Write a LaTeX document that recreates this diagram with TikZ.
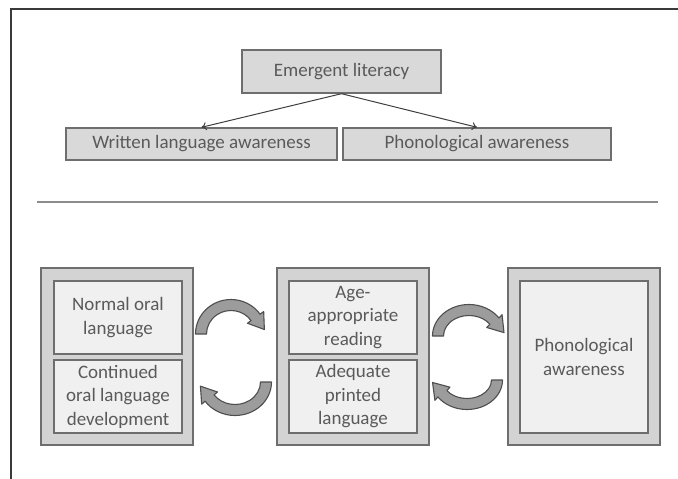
\documentclass[tikz,border=0pt]{standalone}
\usepackage{fontspec}
\setmainfont{Carlito}
\usetikzlibrary{arrows.meta}
\definecolor{framec}{HTML}{3A3A3A}
\definecolor{bordergray}{HTML}{6E6E6E}
\definecolor{boxfill}{HTML}{D9D9D9}
\definecolor{outerfill}{HTML}{D3D3D3}
\definecolor{innerfill}{HTML}{F0F0F0}
\definecolor{txt}{HTML}{5A5A5A}
\definecolor{sepc}{HTML}{8C8C8C}
\definecolor{arrfill}{HTML}{9C9C9C}
\definecolor{arrline}{HTML}{4E4E4E}
\definecolor{linkc}{HTML}{404040}

% #1 cx, #2 cy, #3 rx, #4 ry, #5 start angle, #6 end angle, #7 half width
\newcommand{\bentarrow}[7]{%
  \pgfmathsetmacro\bEx{#1+#3*cos(#6)}%
  \pgfmathsetmacro\bEy{#2+#4*sin(#6)}%
  \pgfmathsetmacro\bTx{-#3*sin(#6)}%
  \pgfmathsetmacro\bTy{#4*cos(#6)}%
  \pgfmathsetmacro\bTn{sqrt(\bTx*\bTx+\bTy*\bTy)}%
  \pgfmathsetmacro\bUx{\bTx/\bTn}%
  \pgfmathsetmacro\bUy{\bTy/\bTn}%
  \pgfmathsetmacro\bRox{#3+#7}%
  \pgfmathsetmacro\bRoy{#4+#7}%
  \pgfmathsetmacro\bRix{#3-#7}%
  \pgfmathsetmacro\bRiy{#4-#7}%
  \pgfmathsetmacro\bSx{#1+\bRox*cos(#5)}%
  \pgfmathsetmacro\bSy{#2+\bRoy*sin(#5)}%
  \pgfmathsetmacro\bIx{#1+\bRix*cos(#6)}%
  \pgfmathsetmacro\bIy{#2+\bRiy*sin(#6)}%
  \pgfmathsetmacro\bAx{\bEx+10*\bUy}%
  \pgfmathsetmacro\bAy{\bEy-10*\bUx}%
  \pgfmathsetmacro\bBx{\bEx+15*\bUx}%
  \pgfmathsetmacro\bBy{\bEy+15*\bUy}%
  \pgfmathsetmacro\bCx{\bEx-10*\bUy}%
  \pgfmathsetmacro\bCy{\bEy+10*\bUx}%
  \filldraw[bentstyle]
    (\bSx,\bSy)
    arc[start angle=#5, end angle=#6, x radius=\bRox, y radius=\bRoy]
    -- (\bAx,\bAy) -- (\bBx,\bBy) -- (\bCx,\bCy) -- (\bIx,\bIy)
    arc[start angle=#6, end angle=#5, x radius=\bRix, y radius=\bRiy]
    -- cycle;}

\begin{document}
\begin{tikzpicture}[x=1pt,y=-1pt,
  font=\fontsize{19}{23.5}\selectfont,
  topbox/.style={draw=bordergray, fill=boxfill, line width=1.4pt, inner sep=0pt, text=txt},
  outerbox/.style={draw=bordergray, fill=outerfill, line width=1.8pt, inner sep=0pt,
     minimum width=152pt, minimum height=177pt},
  innerbox/.style={draw=bordergray, fill=innerfill, line width=1.4pt, inner sep=0pt,
     text=txt, align=center, minimum width=128pt},
  bentstyle/.style={fill=arrfill, draw=arrline, line width=1.1pt, line join=round},
  link/.style={draw=linkc, line width=1pt, -{To[length=5pt,width=8pt]}}]
\useasboundingbox (0,0) rectangle (678,479);
\fill[white] (0,0) rectangle (678,479);

% frame and separator
\draw[framec, line width=2pt] (678,9) -- (11,9) -- (11,479);
\draw[sepc, line width=2pt] (37,202) -- (658,202);

% top tree
\node[topbox, minimum width=199pt, minimum height=43pt] (emerg) at (341.5,71.5) {Emergent literacy};
\node[topbox, minimum width=271pt, minimum height=32pt] (written) at (201.5,144) {Written language awareness};
\node[topbox, minimum width=268pt, minimum height=32pt] (phono) at (477,144) {Phonological awareness};
\draw[link] (emerg.south) -- (written.north);
\draw[link] (emerg.south) -- (phono.north);

% curved block arrows
\bentarrow{231}{334}{30}{29}{180}{325}{5.5}
\bentarrow{235}{382}{31}{28}{0}{145}{5.5}
\bentarrow{469}{336}{31}{26}{180}{325}{5.5}
\bentarrow{467}{380}{30}{24}{0}{145}{5.5}

% lower boxes
\node[outerbox] (oral) at (117,356.5) {};
\node[innerbox, minimum height=73pt] (normal) at (118,317.5) {Normal oral\\language};
\node[innerbox, minimum height=73pt] (continued) at (118,396.5) {Continued\\oral language\\development};

\node[outerbox] (reading) at (353,356.5) {};
\node[innerbox, minimum height=73pt] (age) at (353,317.5) {Age-\\appropriate\\reading};
\node[innerbox, minimum height=73pt] (printed) at (353,396.5) {Adequate\\printed\\language};

\node[outerbox] (phonbox) at (584,356.5) {};
\node[innerbox, minimum height=152pt] (phonin) at (584,357) {Phonological\\awareness};
\end{tikzpicture}
\end{document}
